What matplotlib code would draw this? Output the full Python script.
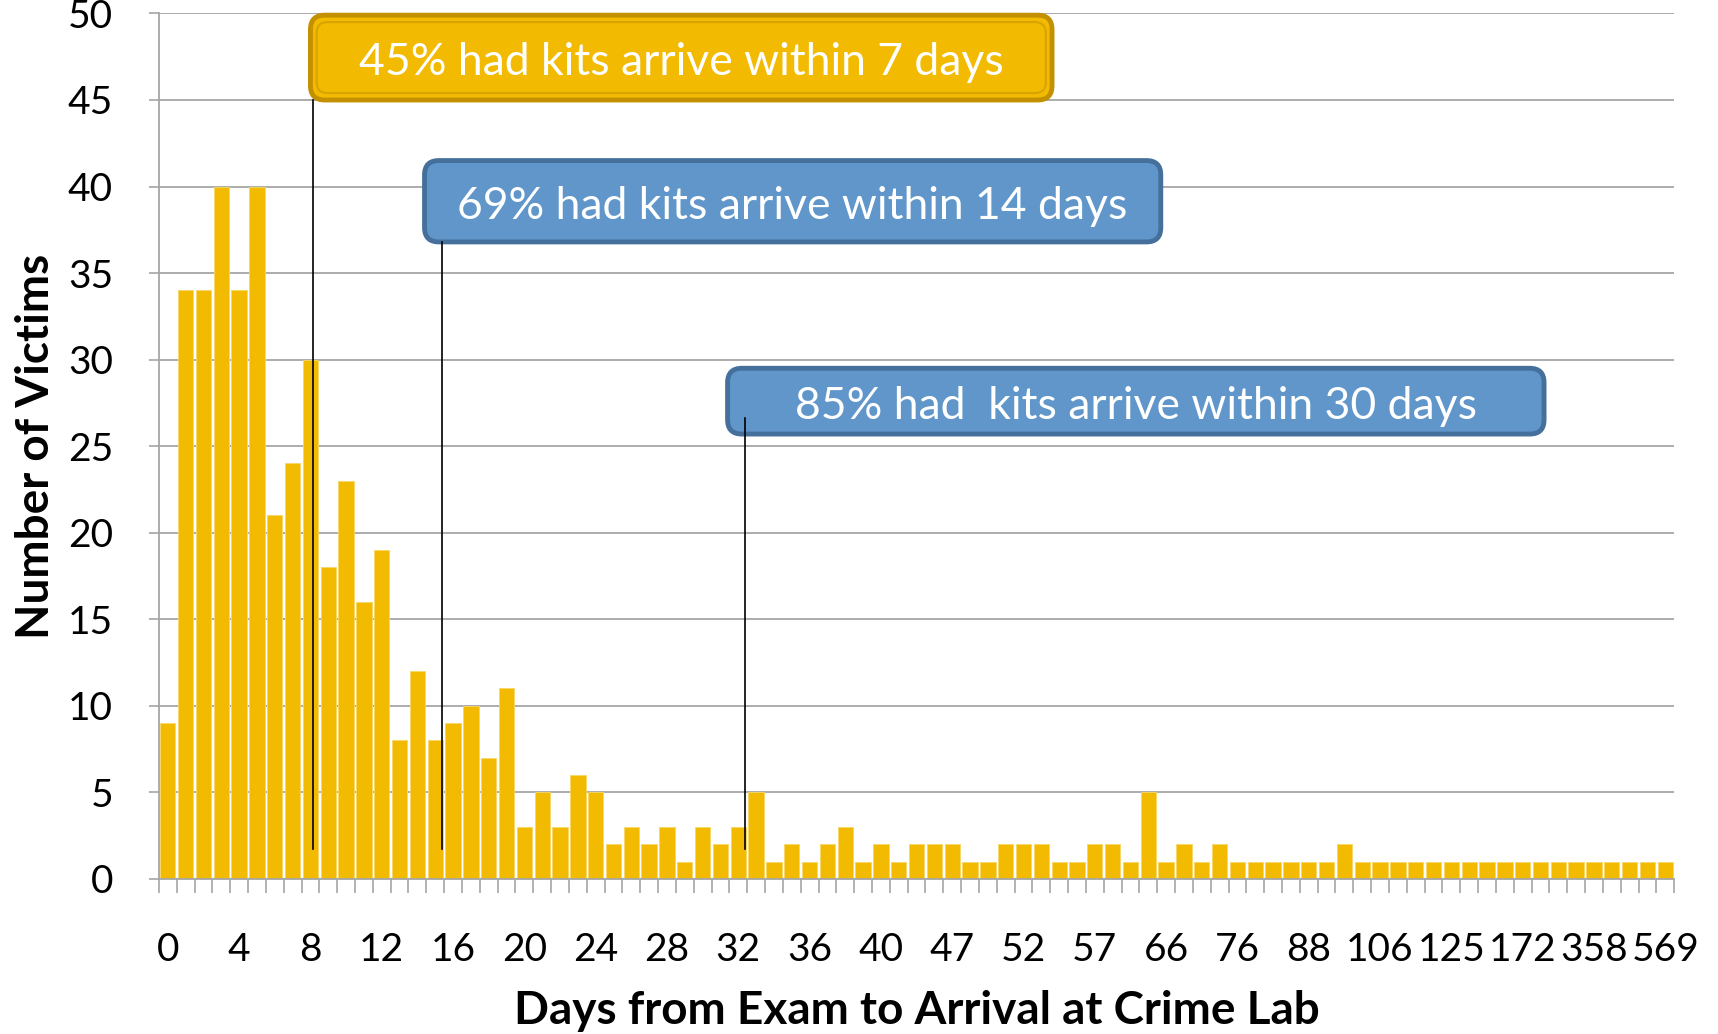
import matplotlib.pyplot as plt
from matplotlib.patches import FancyBboxPatch

# victims per day bucket (one bar per distinct day value, left to right)
counts = [9, 34, 34, 40, 34, 40, 21, 24, 30, 18, 23, 16, 19, 8, 12, 8, 9, 10, 7, 11,
          3, 5, 3, 6, 5, 2, 3, 2, 3, 1, 3, 2, 3, 5, 1, 2, 1, 2, 3, 1,
          2, 1, 2, 2, 2, 1, 1, 2, 2, 2, 1, 1, 2, 2, 1, 5, 1, 2, 1, 2,
          1, 1, 1, 1, 1, 1, 2, 1, 1, 1, 1, 1, 1, 1, 1, 1, 1, 1, 1, 1,
          1, 1, 1, 1, 1]
# only every 4th category is labelled on the axis
tick_labels = ['0', '4', '8', '12', '16', '20', '24', '28', '32', '36', '40',
               '47', '52', '57', '66', '76', '88', '106', '125', '172', '358', '569']
y_ticks = [0, 5, 10, 15, 20, 25, 30, 35, 40, 45, 50]

notes = ['45% had kits arrive within 7 days',
         '69% had kits arrive within 14 days',
         '85% had  kits arrive within 30 days']

GOLD = '#F2BA00'
FONT = ['Lato', 'DejaVu Sans']

plt.rcParams['font.family'] = FONT

fig = plt.figure(figsize=(17.18, 10.34), dpi=100)
ax = fig.add_axes([0.0925, 0.150, 0.882, 0.837])

x = list(range(len(counts)))
ax.bar(x, counts, width=0.86, color=GOLD, edgecolor='#F7D766', linewidth=0.6, zorder=2)

ax.set_xlim(-0.5, len(counts) - 0.5)
ax.set_ylim(0, 50)
ax.set_yticks(y_ticks)
ax.set_yticklabels([str(v) for v in y_ticks], fontsize=28)
ax.set_xticks(x[::4])
ax.set_xticklabels(tick_labels, fontsize=28)
ax.set_xticks([i - 0.5 for i in range(len(counts) + 1)], minor=True)
ax.tick_params(axis='x', which='major', length=0, pad=38)
ax.tick_params(axis='x', which='minor', length=10, color='#A6A6A6', width=1.2)
ax.tick_params(axis='y', length=7, color='#A6A6A6', width=1.2, pad=26)

ax.grid(axis='y', color='#A6A6A6', linewidth=1.3, zorder=0)
ax.set_axisbelow(True)
for s in ['top', 'right']:
    ax.spines[s].set_visible(False)
for s in ['left', 'bottom']:
    ax.spines[s].set_color('#A6A6A6')
    ax.spines[s].set_linewidth(1.3)

ax.set_xlabel('Days from Exam to Arrival at Crime Lab', fontsize=33, fontweight='bold', labelpad=16)
ax.set_ylabel('Number of Victims', fontsize=33, fontweight='bold', labelpad=8)

# callout boxes: (x0, y0, x1, y1) in data units, fill, edge
boxes = [(8.0, 45.0, 49.6, 49.9, GOLD, '#C39000'),
         (14.4, 36.8, 55.7, 41.5, '#6096CA', '#46709C'),
         (31.4, 25.7, 77.2, 29.5, '#6096CA', '#46709C')]
# pointer lines: x, top, bottom
pointers = [(8.17, 45.0, 1.7), (15.4, 36.8, 1.7), (32.4, 26.6, 1.7)]

for (x0, y0, x1, y1, fc, ec), note in zip(boxes, notes):
    box = FancyBboxPatch((x0, y0), x1 - x0, y1 - y0,
                         boxstyle='round,pad=0,rounding_size=0.8', mutation_aspect=1.03,
                         facecolor=fc, edgecolor=ec, linewidth=3.5, zorder=4, clip_on=False)
    ax.add_patch(box)
    ax.text((x0 + x1) / 2, (y0 + y1) / 2 - 0.3, note, color='white', fontsize=32,
            ha='center', va='center', zorder=6)

# inner rim on the gold box
x0, y0, x1, y1 = boxes[0][:4]
inner = FancyBboxPatch((x0 + 0.35, y0 + 0.4), x1 - x0 - 0.7, y1 - y0 - 0.8,
                       boxstyle='round,pad=0,rounding_size=0.6', mutation_aspect=1.03,
                       facecolor='none', edgecolor='#D9A300', linewidth=1.5, zorder=5)
ax.add_patch(inner)

for px, top, bot in pointers:
    ax.plot([px, px], [top, bot], color='black', linewidth=1.2, zorder=5)

fig.savefig('out.png', dpi=100)
